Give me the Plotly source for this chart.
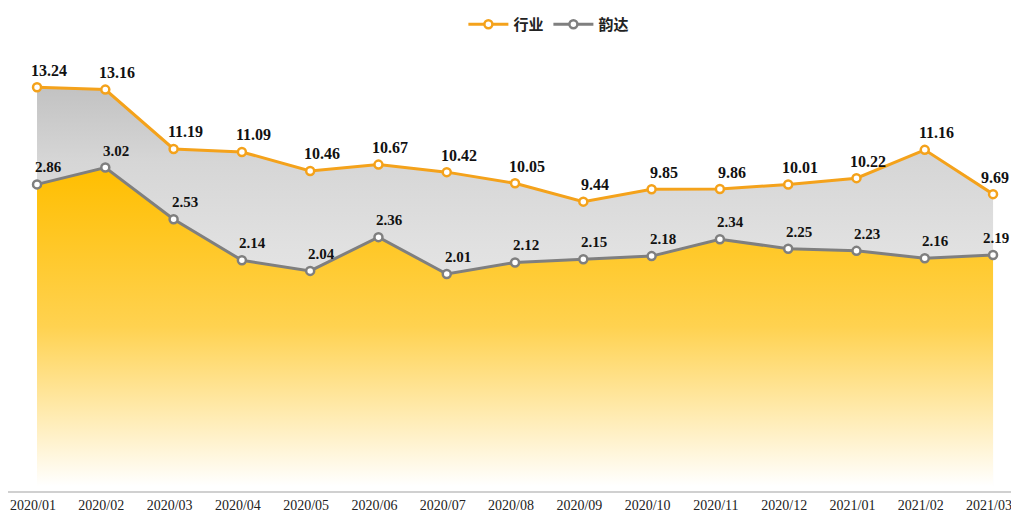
import plotly.graph_objects as go

months = ["2020/01", "2020/02", "2020/03", "2020/04", "2020/05", "2020/06", "2020/07", "2020/08",
          "2020/09", "2020/10", "2020/11", "2020/12", "2021/01", "2021/02", "2021/03"]
industry = [13.24, 13.16, 11.19, 11.09, 10.46, 10.67, 10.42, 10.05, 9.44, 9.85, 9.86, 10.01, 10.22, 11.16, 9.69]
yunda = [2.86, 3.02, 2.53, 2.14, 2.04, 2.36, 2.01, 2.12, 2.15, 2.18, 2.34, 2.25, 2.23, 2.16, 2.19]

ORANGE = "#F4A21B"
GRAY = "#7F7F7F"

fig = go.Figure()

# 行业 line, gray gradient area below it
fig.add_trace(go.Scatter(
    x=months, y=industry, name="行业", yaxis="y", showlegend=False,
    mode="lines+markers",
    line=dict(color=ORANGE, width=3),
    marker=dict(size=8, color="white", line=dict(color=ORANGE, width=2.5)),
    fill="tozeroy",
    fillgradient=dict(type="vertical", start=6, stop=13.24,
                      colorscale=[[0, "#e6e6e6"], [0.25, "#e1e1e1"], [0.66, "#d6d6d6"], [1, "#c2c2c2"]]),
))

# 韵达 line, yellow gradient area below it
fig.add_trace(go.Scatter(
    x=months, y=yunda, name="韵达", yaxis="y2", showlegend=False,
    mode="lines+markers",
    line=dict(color=GRAY, width=3),
    marker=dict(size=8, color="white", line=dict(color=GRAY, width=2.5)),
    fill="tozeroy",
    fillgradient=dict(type="vertical", start=0, stop=3.02,
                      colorscale=[[0, "rgba(255,255,255,1)"], [0.5, "rgba(255,210,80,1)"],
                                  [1, "rgba(255,190,0,1)"]]),
))

# legend entries (line + hollow marker only)
for name, color in [("行业", ORANGE), ("韵达", GRAY)]:
    fig.add_trace(go.Scatter(
        x=[None], y=[None], name=name, mode="lines+markers",
        line=dict(color=color, width=3),
        marker=dict(size=8, color="white", line=dict(color=color, width=2.5)),
    ))

annotations = []
last = len(months) - 1
for i, (m, v) in enumerate(zip(months, industry)):
    annotations.append(dict(x=m, y=v, yref="y", text=f"{v:.2f}", showarrow=False,
                            xshift=2 if i == last else 12, yshift=17,
                            font=dict(family="Liberation Serif", size=16, color="#111", weight="bold")))
for i, (m, v) in enumerate(zip(months, yunda)):
    annotations.append(dict(x=m, y=v, yref="y2", text=f"{v:.2f}", showarrow=False,
                            xshift=3 if i == last else 11, yshift=17,
                            font=dict(family="Liberation Serif", size=15, color="#111", weight="bold")))

fig.update_layout(
    width=1011, height=510,
    margin=dict(l=0, r=0, t=32, b=27),
    plot_bgcolor="white", paper_bgcolor="white",
    showlegend=True,
    legend=dict(orientation="h", x=0.535, xanchor="center", y=1.04, yanchor="middle",
                font=dict(family="Noto Sans CJK SC", size=15, color="#222", weight="bold"),
                itemwidth=40, traceorder="normal"),
    xaxis=dict(type="category", range=[-0.425, 14.38], showgrid=False,
               showline=True, linecolor="#d0d0d0", linewidth=1.5, ticks="",
               ticklabelshift=-4,
               tickfont=dict(family="Liberation Serif", size=14, color="#222")),
    yaxis=dict(range=[-0.165, 14.74], visible=False, showgrid=False, zeroline=False),
    yaxis2=dict(range=[-0.047, 4.21], overlaying="y", visible=False, showgrid=False, zeroline=False),
    annotations=annotations,
)

fig.write_html("out.html")
